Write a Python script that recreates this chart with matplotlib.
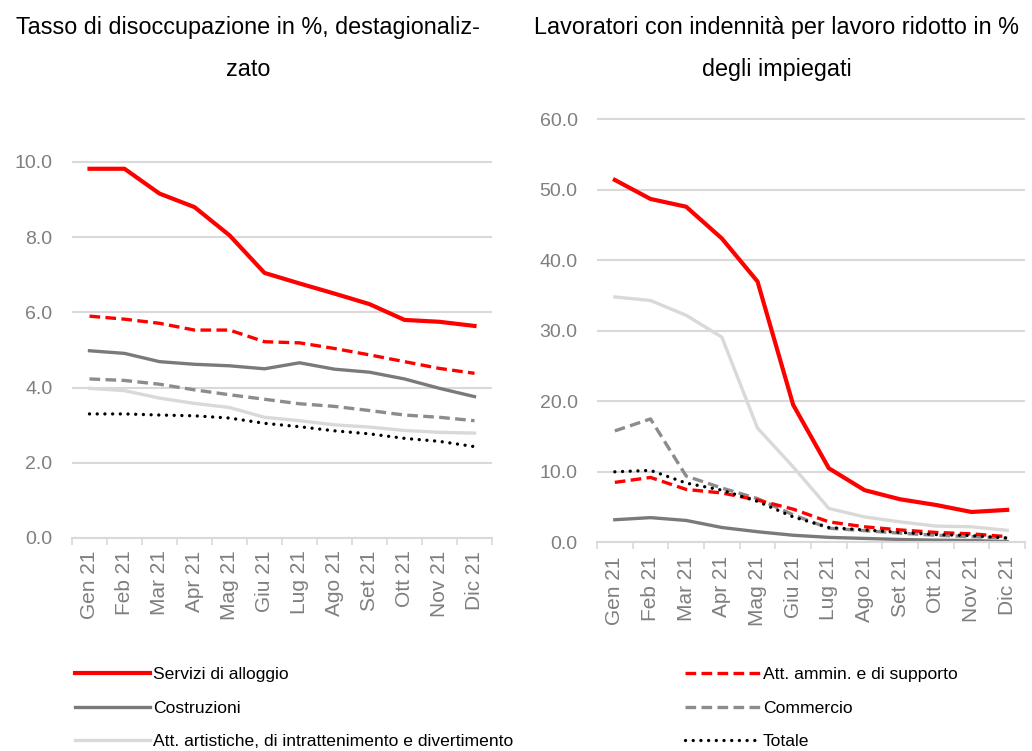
import matplotlib
matplotlib.use("Agg")
import matplotlib.pyplot as plt
from matplotlib.lines import Line2D
from matplotlib import font_manager

months = ["Gen 21", "Feb 21", "Mar 21", "Apr 21", "Mag 21", "Giu 21",
          "Lug 21", "Ago 21", "Set 21", "Ott 21", "Nov 21", "Dic 21"]

# Left panel: unemployment rate (%)
u_alloggio = [9.82, 9.82, 9.16, 8.80, 8.05, 7.05, 6.77, 6.50, 6.22, 5.80, 5.75, 5.64]
u_ammin = [5.90, 5.82, 5.71, 5.53, 5.53, 5.22, 5.19, 5.04, 4.87, 4.69, 4.51, 4.38]
u_costruzioni = [4.98, 4.91, 4.69, 4.62, 4.58, 4.50, 4.66, 4.49, 4.41, 4.23, 3.98, 3.76]
u_commercio = [4.23, 4.19, 4.09, 3.94, 3.81, 3.69, 3.57, 3.50, 3.39, 3.27, 3.21, 3.12]
u_artistiche = [3.98, 3.92, 3.72, 3.58, 3.47, 3.21, 3.12, 3.01, 2.95, 2.86, 2.81, 2.79]
u_totale = [3.30, 3.30, 3.27, 3.25, 3.19, 3.05, 2.96, 2.85, 2.77, 2.65, 2.57, 2.43]

# Right panel: workers on short-time work (% of employees)
k_alloggio = [51.4, 48.7, 47.6, 43.1, 37.0, 19.5, 10.5, 7.4, 6.1, 5.3, 4.3, 4.6]
k_artistiche = [34.8, 34.3, 32.2, 29.1, 16.2, 10.7, 4.8, 3.6, 2.9, 2.3, 2.2, 1.7]
k_commercio = [15.8, 17.5, 9.4, 7.7, 6.2, 3.9, 2.0, 1.65, 1.3, 1.0, 0.8, 0.6]
k_totale = [10.0, 10.2, 8.4, 7.4, 5.8, 3.6, 2.1, 1.75, 1.4, 1.1, 0.95, 0.6]
k_ammin = [8.5, 9.2, 7.5, 7.0, 6.0, 4.7, 2.9, 2.2, 1.75, 1.4, 1.2, 0.8]
k_costruzioni = [3.2, 3.5, 3.1, 2.1, 1.5, 1.0, 0.7, 0.55, 0.4, 0.3, 0.25, 0.1]

labels = ["Servizi di alloggio", "Costruzioni",
          "Att. artistiche, di intrattenimento e divertimento",
          "Att. ammin. e di supporto", "Commercio", "Totale"]

title_left = "Tasso di disoccupazione in %, destagionaliz-\nzato"
title_right = "Lavoratori con indennità per lavoro ridotto in %\ndegli impiegati"

avail = {f.name for f in font_manager.fontManager.ttflist}
narrow = "Liberation Sans Narrow" if "Liberation Sans Narrow" in avail else "Liberation Sans"
regular = "Liberation Sans"

RED = "#ff0000"
DGRAY = "#7a7a7a"
LGRAY = "#d9d9d9"
MGRAY = "#8c8c8c"
GRID = "#d9d9d9"
TICKC = "#7f7f7f"

styles = [
    dict(color=RED, lw=3.0, ls="-"),
    dict(color=DGRAY, lw=2.4, ls="-"),
    dict(color=LGRAY, lw=2.4, ls="-"),
    dict(color=RED, lw=2.4, ls=(0, (3.2, 1.6))),
    dict(color=MGRAY, lw=2.4, ls=(0, (3.2, 1.6))),
    dict(color="black", lw=2.4, ls=(0, (0.01, 2.3)), dash_capstyle="round"),
]

W, H = 1032, 751
fig = plt.figure(figsize=(W / 100, H / 100), dpi=100)


def px_axes(x0, y_bottom, width, height):
    return fig.add_axes([x0 / W, (H - y_bottom) / H, width / W, height / H])


def style_axes(ax, ylim, yticks, label_pad):
    ax.set_xlim(-0.5, 11.5)
    ax.set_ylim(*ylim)
    ax.set_yticks(yticks)
    ax.set_yticklabels([f"{v:.1f}" for v in yticks], fontfamily=narrow,
                       fontsize=14, color=TICKC)
    ax.tick_params(axis="y", length=0, pad=14)
    ax.set_xticks(range(12))
    ax.set_xticklabels(months, rotation=90, fontfamily=regular, fontsize=15,
                       color=TICKC)
    ax.tick_params(axis="x", which="major", length=0, pad=label_pad)
    ax.set_xticks([i - 0.5 for i in range(13)], minor=True)
    ax.tick_params(axis="x", which="minor", length=5, width=1.2, color=GRID,
                   direction="out")
    for s in ["top", "right", "left"]:
        ax.spines[s].set_visible(False)
    ax.spines["bottom"].set_color(GRID)
    ax.spines["bottom"].set_linewidth(1.5)
    ax.grid(axis="y", color=GRID, lw=1.5)
    ax.set_axisbelow(True)


# Left axes
axl = px_axes(72, 538, 420, 10.6 * 37.6)
left_series = [u_alloggio, u_costruzioni, u_artistiche, u_ammin, u_commercio, u_totale]
order = [2, 1, 4, 3, 0, 5]
x = list(range(12))
for i in order:
    axl.plot(x, left_series[i], **styles[i])
style_axes(axl, (0, 10.6), [0, 2, 4, 6, 8, 10], 9)

# Right axes
axr = px_axes(597, 542.3, 428, 63 * 7.05)
right_series = [k_alloggio, k_costruzioni, k_artistiche, k_ammin, k_commercio, k_totale]
for i in order:
    axr.plot(x, right_series[i], **styles[i])
style_axes(axr, (0, 63), [0, 10, 20, 30, 40, 50, 60], 10)

# Titles
for xc, txt in [(248, title_left), (777, title_right)]:
    fig.text(xc / W, 1 - 16 / H, txt, ha="center", va="top",
             fontfamily=regular, fontsize=16.8, linespacing=2.05, color="black")

# Legends
handles = [Line2D([], [], **styles[i]) for i in range(6)]
leg_kw = dict(frameon=False, prop={"family": narrow, "size": 12.6},
              handlelength=4.3, handletextpad=0.15, labelspacing=1.05,
              borderaxespad=0, borderpad=0)
leg1 = fig.legend(handles[:3], labels[:3], loc="upper left",
                  bbox_to_anchor=(75 / W, 1 - 667 / H), **leg_kw)
leg2 = fig.legend(handles[3:], labels[3:], loc="upper left",
                  bbox_to_anchor=(685 / W, 1 - 667 / H), **leg_kw)

fig.savefig("out.png", dpi=100)
